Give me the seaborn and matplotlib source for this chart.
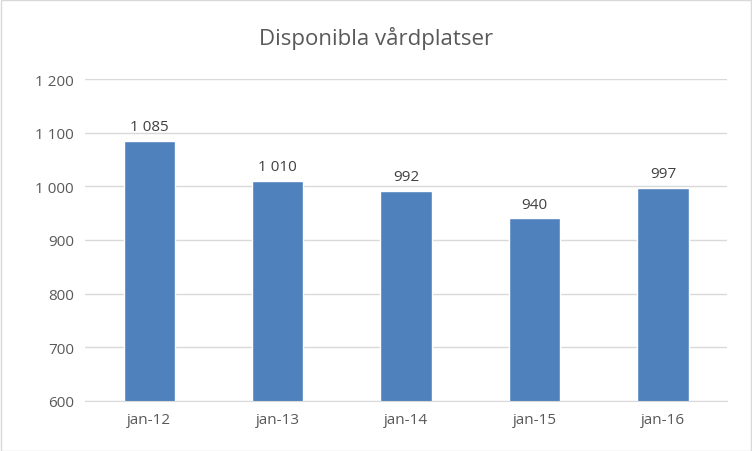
import matplotlib
matplotlib.use("Agg")
import matplotlib.pyplot as plt
import seaborn as sns
import pandas as pd

categories = ["jan-12", "jan-13", "jan-14", "jan-15", "jan-16"]
values = [1085, 1010, 992, 940, 997]
title = "Disponibla vårdplatser"

sns.set_style("white")
plt.rcParams['font.family'] = ['Open Sans', 'DejaVu Sans']

def fmt(v):
    return f"{v:,}".replace(",", " ")

df = pd.DataFrame({"cat": categories, "val": values})
fig = plt.figure(figsize=(7.52, 4.52), dpi=100)
ax = fig.add_axes([0.113, 0.111, 0.854, 0.712])
sns.barplot(data=df, x="cat", y="val", color="#4F81BD", width=0.4, saturation=1, ax=ax)
ax.set_ylim(600, 1200)
ticks = list(range(600, 1201, 100))
ax.set_yticks(ticks)
ax.set_yticklabels([fmt(t) for t in ticks])
ax.yaxis.grid(True, color="#D9D9D9", lw=1)
ax.set_axisbelow(True)
for s in ["top", "right", "left"]:
    ax.spines[s].set_visible(False)
ax.spines["bottom"].set_color("#D9D9D9")
ax.tick_params(axis="both", length=0, labelsize=11, colors="#595959", pad=8)
ax.set_xlabel(""); ax.set_ylabel("")
for i, v in enumerate(values):
    ax.text(i, v + 12, fmt(v), ha="center", va="bottom", fontsize=11, color="#404040")
fig.text(0.5, 0.915, title, ha="center", va="center", fontsize=16, color="#595959")
fig.patches.append(plt.Rectangle((0.001, 0.001), 0.998, 0.997, transform=fig.transFigure,
                                 fill=False, edgecolor="#D9D9D9", lw=1))
fig.savefig("out.png", dpi=100)
